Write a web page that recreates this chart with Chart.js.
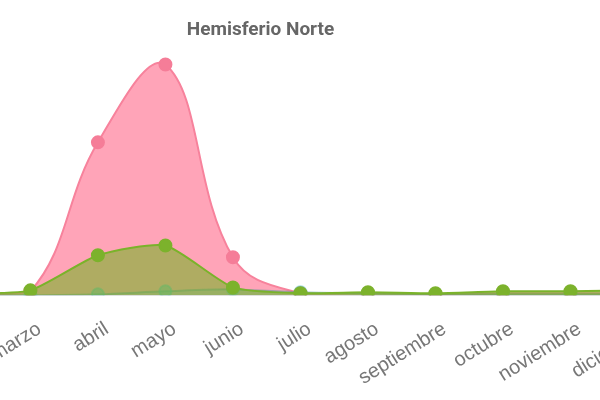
<!DOCTYPE html>
<html>
<head>
<meta charset="utf-8">
<script src="https://cdn.jsdelivr.net/npm/chart.js@4.4.1/dist/chart.umd.min.js"></script>
<style>
html,body{margin:0;padding:0;background:#fff;overflow:hidden;width:600px;height:400px;}
#wrap{position:absolute;left:-162px;top:0;width:845px;height:404px;}
</style>
</head>
<body>
<div id="wrap"><canvas id="c"></canvas></div>
<script>
const months = ['enero','febrero','marzo','abril','mayo','junio','julio','agosto','septiembre','octubre','noviembre','diciembre'];
const serieRosa  = [1, 1, 4, 157, 237, 39, 2, 2, 1, 2, 2, 2];
const serieVerde = [2, 2, 5, 41, 51, 8, 2, 3, 2, 4, 4, 5];
const serieAzul  = [0, 0, 0, 1, 4, 6, 3, 2, 1, 1, 1, 1];
const yMax = 250;

new Chart(document.getElementById('c'), {
  type: 'line',
  data: {
    labels: months,
    datasets: [
      {
        label: 'Verde', data: serieVerde, order: 0, fill: true,
        borderColor: 'rgb(122,179,42)', backgroundColor: 'rgba(122,179,42,0.6)',
        pointBackgroundColor: 'rgb(124,178,44)', pointBorderColor: 'rgb(124,178,44)',
        pointRadius: 6, borderWidth: 2, tension: 0.2
      },
      {
        label: 'Azul', data: serieAzul, order: 1, fill: true,
        borderColor: 'rgba(75,150,150,0.5)', backgroundColor: 'rgba(75,192,192,0.3)',
        pointBackgroundColor: 'rgba(75,192,192,0.5)', pointBorderColor: 'rgba(75,192,192,0.5)',
        pointRadius: 6, borderWidth: 2, tension: 0.3
      },
      {
        label: 'Rosa', data: serieRosa, order: 2, fill: true,
        borderColor: 'rgb(247,130,156)', backgroundColor: 'rgba(255,99,132,0.58)',
        pointBackgroundColor: 'rgb(245,125,152)', pointBorderColor: 'rgb(245,125,152)',
        pointRadius: 6, borderWidth: 2, tension: 0.4
      }
    ]
  },
  options: {
    responsive: true, maintainAspectRatio: false, animation: false,
    layout: { padding: { top: 9, bottom: 0 } },
    plugins: {
      legend: { display: false },
      tooltip: { enabled: false },
      title: { display: true, text: 'Hemisferio Norte', color: '#666',
        font: { family: 'Roboto, Arial, sans-serif', size: 19, weight: 'bold' } }
    },
    scales: {
      x: {
        grid: { display: false },
        border: { display: true, color: 'rgba(0,0,0,0.12)' },
        ticks: { color: '#777', minRotation: 32, maxRotation: 32, padding: 14, labelOffset: 9,
          font: { family: 'Liberation Sans, Arial, sans-serif', size: 20 } }
      },
      y: {
        position: 'right', min: 0, max: yMax,
        grid: { display: false }, border: { display: false },
        ticks: { display: false },
        afterFit: function (scale) { scale.width = 45; }
      }
    }
  }
});
</script>
</body>
</html>
